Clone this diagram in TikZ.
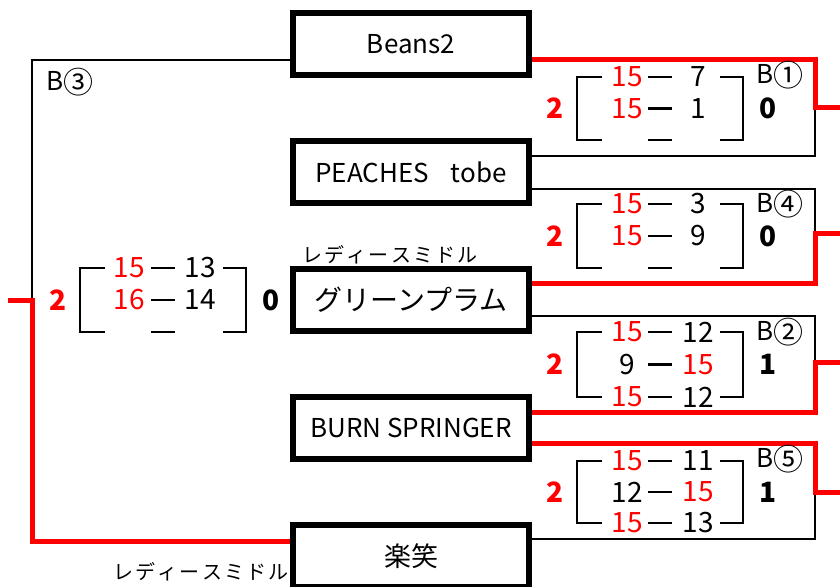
\documentclass[tikz,border=0pt]{standalone}
\usepackage{fontspec}
\setmainfont{Noto Sans CJK JP}
\newcommand\cn[1]{\raisebox{-2.5pt}{\fontsize{30}{28}\selectfont #1}}
\newcommand\gp{\hspace{2.2pt}}
\begin{document}
\begin{tikzpicture}[x=1pt,y=-1pt,
  team/.style={draw, line width=6pt, minimum width=236pt, minimum height=62pt, inner sep=0pt,
    font=\fontsize{26}{28}\selectfont},
  blk/.style={black, line width=2.6pt},
  win/.style={red, line width=5pt},
  brk/.style={black, line width=2.8pt},
  sc/.style={inner sep=0pt, font=\fontsize{28}{28}\selectfont},
  tot/.style={inner sep=0pt, font=\bfseries\fontsize{28}{28}\selectfont},
  blab/.style={inner sep=0pt, font=\fontsize{26}{28}\selectfont},
  div/.style={inner sep=0pt, font=\fontsize{20}{22}\selectfont}
]
\useasboundingbox (0,0) rectangle (840,586);

% teams
\node[team] (beans) at (411,44) {Beans2};
\node[team] (peach) at (411,172) {PEACHES\hspace{22pt}tobe};
\node[team, font=\fontsize{28}{28}\selectfont] (green) at (411,300) {グリーンプラム};
\node[team] (burn)  at (411,428) {BURN SPRINGER};
\node[team, font=\fontsize{27}{28}\selectfont] (raku)  at (411,556) {楽笑};

\node[div] (div1) at (390,255) {レ\gp デ\gp ィ\gp ー\gp ス\gp ミ\gp ド\gp ル};
\node[div] (div2) at (201,572) {レ\gp デ\gp ィ\gp ー\gp ス\gp ミ\gp ド\gp ル};

% joins
\coordinate (j1) at (815,107); \coordinate (o1) at (840,107);
\coordinate (j4) at (815,233); \coordinate (o4) at (840,233);
\coordinate (j2) at (815,362); \coordinate (o2) at (840,362);
\coordinate (j5) at (815,492); \coordinate (o5) at (840,492);
\coordinate (j3) at (32,300);  \coordinate (o3) at (8,300);

% black connectors
\draw[blk] ([yshift=16pt]peach.east) -| (j1);
\draw[blk] ([yshift=-17pt]peach.east) -| (j4);
\draw[blk] ([yshift=-16pt]green.east) -| (j2);
\draw[blk] ([yshift=17pt]raku.east) -| (j5);
\draw[blk] ([yshift=-16pt]beans.west) -| (j3);

% red connectors
\draw[win] ([yshift=-16pt]beans.east) -| (j1) -- (o1);
\draw[win] ([yshift=17pt]green.east) -| (j4) -- (o4);
\draw[win] ([yshift=16pt]burn.east) -| (j2) -- (o2);
\draw[win] ([yshift=-15pt]burn.east) -| (j5) -- (o5);
\draw[win] (o3) -- (j3) |- ([yshift=15pt]raku.west);

% score block
\newcommand\scblk[9]{%
\begin{scope}[shift={(#2,#3)}]
  \draw[brk] (25,0) -- (0,0) -- (0,2*#4) -- (25,2*#4);
  \draw[brk] (143,0) -- (166,0) -- (166,2*#4) -- (143,2*#4);
  \foreach \r in {0,1,2} \draw[brk] (71,\r*#4) -- (95,\r*#4);
  \node[tot, text=red] (#1s) at (-22,#4) {2};
  \node[tot] (#1t) at (191,#4) {#8};
  #5
  #6
  #7
  #9
\end{scope}}

\scblk{b1}{577}{77}{31.5}
 {\node[sc,text=red] (b1a) at (50,0) {15}; \node[sc] (b1b) at (121,0) {7};}
 {\node[sc,text=red] (b1c) at (50,31.5) {15}; \node[sc] (b1d) at (121,31.5) {1};}
 {}
 {0}
 {\node[blab] (b1l) at (203,-2) {B\cn{①}};}

\scblk{b4}{577}{204}{32}
 {\node[sc,text=red] (b4a) at (50,0) {15}; \node[sc] (b4b) at (121,0) {3};}
 {\node[sc,text=red] (b4c) at (50,32) {15}; \node[sc] (b4d) at (121,32) {9};}
 {}
 {0}
 {\node[blab] (b4l) at (203,0) {B\cn{④}};}

\scblk{b2}{577}{332}{32.5}
 {\node[sc,text=red] (b2a) at (50,0) {15}; \node[sc] (b2b) at (121,0) {12};}
 {\node[sc] (b2c) at (50,32.5) {9}; \node[sc,text=red] (b2d) at (121,32.5) {15};}
 {\node[sc,text=red] (b2e) at (50,65) {15}; \node[sc] (b2f) at (121,65) {12};}
 {1}
 {\node[blab] (b2l) at (203,0) {B\cn{②}};}

\scblk{b5}{577}{461}{31}
 {\node[sc,text=red] (b5a) at (50,0) {15}; \node[sc] (b5b) at (121,0) {11};}
 {\node[sc] (b5c) at (50,31) {12}; \node[sc,text=red] (b5d) at (121,31) {15};}
 {\node[sc,text=red] (b5e) at (50,62) {15}; \node[sc] (b5f) at (121,62) {13};}
 {1}
 {\node[blab] (b5l) at (203,-2) {B\cn{⑤}};}

\scblk{b3}{80}{268}{32}
 {\node[sc,text=red] (b3a) at (49,0) {15}; \node[sc] (b3b) at (120,0) {13};}
 {\node[sc,text=red] (b3c) at (49,32) {16}; \node[sc] (b3d) at (120,32) {14};}
 {}
 {0}
 {}

\node[blab] (b3l) at (70,82) {B\cn{③}};
\end{tikzpicture}
\end{document}
